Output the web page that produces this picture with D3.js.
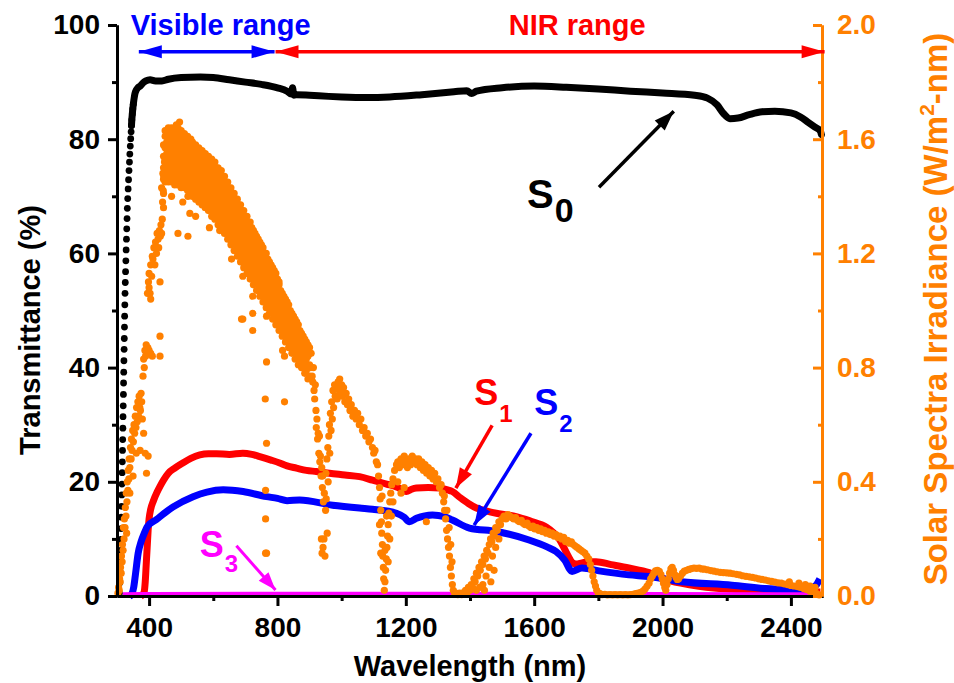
<!DOCTYPE html>
<html>
<head>
<meta charset="utf-8">
<script src="https://cdn.jsdelivr.net/npm/d3@7"></script>
<style>
  body { margin: 0; background: #fff; }
  svg text { font-family: "Liberation Sans", Arial, sans-serif; font-weight: bold; }
</style>
</head>
<body>
<svg id="chart" width="954" height="683"></svg>
<script>
// ---------- data ----------
// Wavelength (nm) ticks
const xTicks = [400, 800, 1200, 1600, 2000, 2400];
const xMinorTicks = [600, 1000, 1400, 1800, 2200];
const tTicks = [0, 20, 40, 60, 80, 100];
const tMinorTicks = [10, 30, 50, 70, 90];
const iTicks = [0.0, 0.4, 0.8, 1.2, 1.6, 2.0];
const iMinorTicks = [0.2, 0.6, 1.0, 1.4, 1.8];

// S0 transmittance (%): individual readings along the UV edge, then the plateau
const s0 = [
  [307.5,0.5],[308.8,2.3],[309.6,4.2],[310.4,6.1],[311.1,8.0],[311.8,9.9],[312.6,11.8],[313.4,13.8],
  [314.2,15.7],[314.9,17.7],[315.5,19.6],[316.1,21.6],[316.6,23.5],[317.2,25.5],[317.7,27.4],[318.3,29.4],
  [318.8,31.4],[319.4,33.3],[320.0,35.3],[320.5,37.3],[321.0,39.2],[321.6,41.2],[322.2,43.2],[322.7,45.1],
  [323.3,47.1],[323.8,49.0],[324.4,51.0],[325.0,53.0],[325.8,54.9],[326.7,56.8],[327.6,58.7],[328.5,60.6],
  [329.5,62.5],[330.4,64.3],[331.3,66.1],[332.2,67.9],[333.4,69.6],[334.7,71.3],[336.0,72.9],[337.4,74.5],
  [338.8,76.0],[340.0,77.4],[341.4,78.8],[342.7,80.1],[344.0,81.3],[345.1,82.4],[346.2,83.4],[347.7,84.4],
  [349.2,85.3],[350.8,86.1],[352.4,86.8],[354.0,87.4],[356,88.0],[360,88.6],[365,89.0],[372,89.3],
  [380,89.8],[390,90.2],[403,90.4],[420,90.2],[440,90.2],[460,90.5],[500,90.8],[560,90.9],[600,90.8],
  [650,90.4],[700,90.0],[750,89.6],[800,89.0],[830,88.4],[843,87.9],[847,89.0],[851,87.7],[860,87.8],
  [900,87.7],[960,87.5],[1000,87.4],[1080,87.3],[1150,87.4],[1250,87.8],[1350,88.3],[1390,88.5],
  [1405,88.0],[1420,88.4],[1500,89.0],[1600,89.3],[1700,89.1],[1800,88.8],[1900,88.4],[2000,88.1],
  [2100,87.7],[2140,87.2],[2170,86.0],[2190,84.5],[2210,83.6],[2235,83.7],[2270,84.3],[2310,84.8],
  [2350,84.9],[2400,84.6],[2430,83.9],[2455,82.9],[2475,82.1],[2492,81.4],[2495,80.8]
];

// S1 transmittance (%)
const s1 = [
  [375,0],[381,0.3],[385,0.8],[388,2.5],[391,5.5],[394,8.5],[397,11.5],[400,13.5],[405,15.2],[413,16.6],
  [425,18.2],[434,19.2],[445,20.3],[460,21.5],[480,22.4],[505,23.3],[530,24.1],[558,24.7],[585,24.9],
  [610,24.9],[650,24.8],[692,25.0],[720,24.8],[745,24.4],[780,23.8],[807,23.3],[830,22.8],[859,22.4],
  [890,22.0],[921,21.8],[962,21.5],[1010,21.2],[1056,20.9],[1096,20.3],[1140,19.6],[1171,19.1],
  [1190,18.6],[1202,18.3],[1218,18.7],[1233,18.9],[1270,19.0],[1305,18.9],[1330,18.6],[1345,18.3],
  [1370,17.2],[1395,16.2],[1420,15.4],[1450,14.9],[1482,14.5],[1515,14.2],[1544,13.9],[1590,13.1],
  [1637,12.1],[1662,11.0],[1680,9.8],[1695,8.2],[1708,6.8],[1718,5.9],[1730,5.6],[1749,5.8],[1770,6.0],
  [1793,6.0],[1840,5.5],[1895,4.9],[1958,4.1],[1985,3.5],[2010,2.9],[2060,2.2],[2113,1.7],[2160,1.4],
  [2215,1.2],[2321,0.9],[2400,0.8],[2465,0.7],[2492,0.7]
];

// S2 transmittance (%)
const s2 = [
  [340,0],[346,0.3],[352,1.5],[358,4.0],[366,7.5],[375,9.5],[385,11.0],[395,12.2],[423,13.4],[450,14.6],
  [475,15.6],[537,17.4],[580,18.2],[631,18.6],[693,18.3],[766,17.4],[800,17.1],[830,16.7],[869,16.8],
  [972,15.9],[1056,15.4],[1096,15.2],[1171,14.5],[1195,13.8],[1211,13.0],[1233,13.6],[1283,14.2],
  [1320,13.9],[1345,13.3],[1398,11.9],[1482,11.3],[1584,9.8],[1640,8.6],[1668,7.8],[1695,6.3],
  [1718,4.3],[1749,4.9],[1802,4.4],[1895,3.7],[1958,3.4],[2060,2.5],[2216,1.9],[2321,1.3],[2424,1.05],
  [2465,1.4],[2480,2.0],[2490,3.0]
];

// S3 transmittance (%)
const s3 = [[318,0.2],[400,0.25],[800,0.3],[1200,0.3],[1600,0.3],[2000,0.25],[2490,0.2]];

// Solar spectral irradiance (W/m2-nm), UV edge and blue cluster
const solarUV = [
  [303,0.01],[305,0.03],[307,0.02],[308,0.06],[310,0.05],[311,0.10],[313,0.08],[314,0.14],[316,0.12],
  [317,0.18],[319,0.16],[320,0.24],[322,0.20],[323,0.27],[325,0.24],[326,0.31],[328,0.28],[329,0.36],
  [331,0.33],[332,0.40],[334,0.37],[335,0.44],[337,0.41],[338,0.48],[340,0.45],[342,0.52],[344,0.48],
  [345,0.55],[347,0.51],[349,0.58],[351,0.54],[353,0.60],[355,0.57],[357,0.63],[359,0.59],[361,0.66],
  [363,0.61],[365,0.68],[367,0.63],[369,0.70],[371,0.66],[373,0.65],[375,0.71],[377,0.68],[379,0.62],
  [381,0.77],[383,0.83],[385,0.80],[387,0.86],[389,0.84],[391,0.88],[393,0.85],[396,0.87],[400,0.86],
  [405,0.85],[410,0.84],[434,0.91],[434,0.84],[372,0.51],[392,0.43],[397,0.49],[388,0.50],[383,0.57],
  [360,0.50],[340,0.36],[330,0.22],[350,0.42],
  [395,1.06],[398,1.10],[400,1.13],[403,1.06],[405,1.16],[408,1.12],[410,1.19],[412,1.18],[415,1.22],
  [418,1.16],[420,1.24],[423,1.20],[425,1.27],[428,1.25],[430,1.22],[432,1.28],[435,1.26],[437,1.30],
  [439,1.27],[434,1.10],[400,1.08],[405,1.04],[441,1.32],[442,1.38],[444,1.42],[446,1.47],[448,1.52]
];

// Solar spectral irradiance, visible to 900 nm: wavelength, then readings spread across the band
const solarBand = [
  [445,1.36,1.41,1.46,1.50,1.54,1.58],[450,1.45,1.49,1.53,1.57,1.61,1.63],[455,1.47,1.51,1.55,1.59,1.62],
  [460,1.45,1.49,1.53,1.57,1.61,1.64],[465,1.47,1.51,1.55,1.59,1.63],[470,1.45,1.49,1.53,1.57,1.61,1.64],
  [475,1.47,1.51,1.55,1.59,1.63],[480,1.44,1.48,1.52,1.56,1.60,1.64],[485,1.46,1.50,1.54,1.58,1.62,1.65],
  [490,1.44,1.48,1.52,1.56,1.60,1.64],[495,1.46,1.50,1.54,1.58,1.62,1.66],[500,1.43,1.47,1.51,1.55,1.59,1.63],
  [505,1.45,1.49,1.53,1.57,1.61],[510,1.43,1.47,1.51,1.55,1.59,1.62],[515,1.45,1.49,1.53,1.57,1.61],
  [520,1.42,1.46,1.50,1.54,1.58,1.61],[525,1.44,1.48,1.52,1.56,1.60],[530,1.42,1.46,1.50,1.54,1.58,1.60],
  [535,1.40,1.44,1.48,1.52,1.56,1.59],[540,1.42,1.46,1.50,1.54,1.58],[545,1.39,1.43,1.47,1.51,1.55,1.58],
  [550,1.41,1.45,1.49,1.53,1.57],[555,1.38,1.42,1.46,1.50,1.54,1.57],[560,1.40,1.44,1.48,1.52,1.56],
  [565,1.37,1.41,1.45,1.49,1.53,1.56],[570,1.39,1.43,1.47,1.51,1.55],[575,1.36,1.40,1.44,1.48,1.52,1.55],
  [580,1.38,1.42,1.46,1.50,1.54],[585,1.35,1.39,1.43,1.47,1.51,1.54],[590,1.37,1.41,1.45,1.49,1.53],
  [595,1.33,1.37,1.41,1.45,1.49,1.53],[600,1.35,1.39,1.43,1.47,1.51],[605,1.32,1.36,1.40,1.44,1.48,1.52],
  [610,1.34,1.38,1.42,1.46,1.50],[615,1.30,1.34,1.38,1.42,1.46,1.50],[620,1.32,1.36,1.40,1.44,1.48],
  [625,1.29,1.33,1.37,1.41,1.45,1.49],[630,1.31,1.35,1.39,1.43,1.47],[635,1.27,1.31,1.35,1.39,1.43,1.47],
  [640,1.29,1.33,1.37,1.41,1.45],[645,1.25,1.29,1.33,1.37,1.41,1.45],[650,1.27,1.31,1.35,1.39,1.43],
  [655,1.23,1.27,1.31,1.35,1.39,1.43],[660,1.25,1.29,1.33,1.37,1.41],[665,1.21,1.25,1.29,1.33,1.37,1.41],
  [670,1.23,1.27,1.31,1.35,1.39],[675,1.19,1.23,1.27,1.31,1.35,1.39],[680,1.21,1.25,1.29,1.33,1.37],
  [685,1.17,1.21,1.25,1.29,1.33,1.37],[690,1.19,1.23,1.27,1.31,1.35],[695,1.15,1.19,1.23,1.27,1.31,1.35],
  [700,1.17,1.21,1.25,1.29,1.33],[705,1.13,1.17,1.21,1.25,1.29,1.33],[710,1.15,1.19,1.23,1.27,1.31],
  [715,1.11,1.15,1.19,1.23,1.27,1.31],[720,1.13,1.17,1.21,1.25,1.29],[725,1.09,1.13,1.17,1.21,1.25,1.28],
  [730,1.11,1.15,1.19,1.23,1.27],[735,1.07,1.11,1.15,1.19,1.23,1.26],[740,1.09,1.13,1.17,1.21,1.25],
  [745,1.05,1.09,1.13,1.17,1.21,1.24],[750,1.07,1.11,1.15,1.19,1.23],[755,1.03,1.07,1.11,1.15,1.19,1.22],
  [760,1.05,1.09,1.13,1.17,1.20],[765,1.01,1.05,1.09,1.13,1.17,1.20],[770,1.03,1.07,1.11,1.15,1.18],
  [775,0.99,1.03,1.07,1.11,1.15,1.17],[780,1.01,1.05,1.09,1.13,1.16],[785,0.97,1.01,1.05,1.09,1.13,1.15],
  [790,0.99,1.03,1.07,1.11,1.14],[795,0.95,0.99,1.03,1.07,1.11,1.13],[800,0.97,1.01,1.05,1.09,1.11],
  [805,0.93,0.97,1.01,1.05,1.09,1.10],[810,0.95,0.99,1.03,1.07],[815,0.91,0.95,0.99,1.03,1.06],
  [820,0.93,0.97,1.01,1.05],[825,0.89,0.93,0.97,1.01,1.04],[830,0.91,0.95,0.99,1.03],
  [835,0.87,0.91,0.95,0.99,1.02],[840,0.89,0.93,0.97,1.00],[845,0.85,0.89,0.93,0.97,0.99],
  [850,0.87,0.91,0.95,0.98],[855,0.83,0.87,0.91,0.95,0.97],[860,0.85,0.89,0.93,0.96],
  [865,0.81,0.85,0.89,0.93,0.95],[870,0.83,0.87,0.91,0.93],[875,0.80,0.84,0.88,0.92],
  [880,0.81,0.85,0.89,0.91],[885,0.78,0.82,0.86,0.90],[890,0.79,0.83,0.87,0.89],
  [895,0.76,0.80,0.84,0.88],[900,0.77,0.81,0.85,0.87]
];

// Solar spectral irradiance, absorption outliers in the visible
const solarDips = [
  [439,1.43],[443,1.48],[490,1.46],[521,1.40],[527,1.34],[490,1.27],[521,1.26],[595,1.37],[588,1.29],
  [657,1.24],[657,1.18],[692,1.18],[692,1.12],[723,1.15],[723,1.05],[692,0.97],[723,0.99],[723,0.93],
  [688,0.97],[766,0.98],[766,0.82],[762,0.69],[766,0.535],[763,0.37],[763,0.27],[763,0.15],[766,0.15],
  [816,0.86],[822,0.84],[822,0.68],[470,1.40],[505,1.38],[545,1.33],[620,1.28],[760,1.03]
];

// Solar spectral irradiance, near infrared
const solarNIR = [
  [903,0.80],[905,0.85],[908,0.77],[910,0.75],[912,0.80],[914,0.72],[916,0.69],[918,0.74],[920,0.65],
  [921,0.59],[923,0.62],[925,0.55],[927,0.57],[929,0.50],[931,0.56],[932,0.47],[934,0.49],[936,0.42],
  [937,0.20],[938,0.45],[939,0.15],[940,0.38],[941,0.42],[942,0.17],[943,0.33],[945,0.20],[946,0.36],
  [948,0.14],[950,0.30],[951,0.43],[952,0.34],[954,0.48],[955,0.22],[957,0.52],[958,0.40],[960,0.56],
  [962,0.60],[963,0.50],[965,0.64],[967,0.58],[969,0.68],[971,0.62],[973,0.72],[975,0.66],[978,0.74],
  [980,0.70],[983,0.73],[986,0.69],[989,0.75],[992,0.72],[994,0.76],[997,0.71],[1000,0.74],[1003,0.70],
  [1006,0.73],[1010,0.68],[1014,0.71],[1018,0.67],[1022,0.69],[1026,0.65],[1030,0.67],[1035,0.63],
  [1040,0.65],[1045,0.62],[1050,0.64],[1055,0.60],[1060,0.62],[1065,0.58],[1070,0.59],[1075,0.56],
  [1080,0.57],[1085,0.54],[1090,0.55],[1096,0.52],[1100,0.50],[1104,0.51],[1108,0.47],[1112,0.46],
  [1115,0.42],[1118,0.38],[1120,0.34],[1122,0.30],[1124,0.26],[1125,0.22],[1127,0.18],[1128,0.14],
  [1130,0.10],[1131,0.06],[1133,0.02],[1135,0.05],[1137,0.09],[1139,0.13],[1141,0.17],[1143,0.21],
  [1145,0.25],[1147,0.29],[1150,0.33],[1153,0.36],[1156,0.39],[1160,0.41],[1165,0.44],[1171,0.46],
  [1118,0.25],[1122,0.15],[1126,0.35],[1140,0.28],[1145,0.12],[1150,0.20],[1155,0.28],[1160,0.33],[1135,0.16],
  [1175,0.47],[1180,0.45],[1185,0.48],[1190,0.46],[1195,0.49],[1200,0.47],[1205,0.45],[1210,0.48],
  [1215,0.46],[1220,0.49],[1225,0.47],[1230,0.48],[1235,0.46],[1240,0.48],[1245,0.45],[1250,0.47],
  [1255,0.44],[1260,0.46],[1265,0.43],[1270,0.45],[1275,0.42],[1280,0.44],[1285,0.41],[1290,0.43],
  [1295,0.40],[1300,0.41],[1305,0.38],[1310,0.39],[1314,0.36],[1318,0.33],[1321,0.30],[1324,0.27],
  [1327,0.23],[1330,0.20],[1333,0.17],[1336,0.14],[1339,0.10],[1342,0.07],[1345,0.04],[1348,0.02],[1352,0.01],
  [1175,0.40],[1185,0.36],[1195,0.38],[1264,0.26],[1320,0.35],[1328,0.30],[1335,0.24],[1340,0.18],[1344,0.12],
  [1356,0.01],[1362,0.005],[1368,0.01],[1374,0.005],[1380,0.012],[1386,0.02],[1390,0.01],[1395,0.03],
  [1400,0.02],[1404,0.04],[1408,0.03],[1412,0.06],[1416,0.05],[1420,0.08],[1424,0.07],[1428,0.10],
  [1432,0.09],[1436,0.12],[1440,0.11],[1444,0.14],[1448,0.13],[1452,0.16],[1456,0.15],[1460,0.18],
  [1464,0.20],[1468,0.19],[1472,0.22],[1476,0.21],[1480,0.24],[1485,0.23],[1490,0.26],[1495,0.25],
  [1420,0.02],[1440,0.04],[1450,0.07],[1460,0.10],[1470,0.14],[1480,0.17],[1490,0.20],[1430,0.03],
  [1445,0.02],[1465,0.05],[1475,0.09],
  [1500,0.27],[1506,0.28],[1512,0.27],[1518,0.285],[1524,0.28],[1530,0.275],[1536,0.27],[1542,0.275],
  [1548,0.265],[1554,0.26],[1560,0.265],[1566,0.255],[1572,0.25],[1578,0.255],[1584,0.245],[1590,0.24],
  [1596,0.245],[1602,0.235],[1608,0.24],[1614,0.23],[1620,0.235],[1626,0.225],[1632,0.23],[1638,0.22],
  [1644,0.225],[1650,0.215],[1656,0.22],[1662,0.21],[1668,0.215],[1674,0.205],[1680,0.21],[1686,0.20],
  [1692,0.205],[1698,0.19],[1704,0.195],[1710,0.185],[1716,0.19],[1722,0.18],[1728,0.175],[1734,0.17],
  [1740,0.165],[1746,0.16],[1752,0.155],[1758,0.15],[1764,0.14],[1770,0.13],[1775,0.11],[1779,0.09],
  [1783,0.07],[1787,0.05],[1791,0.035],[1795,0.02],[1800,0.01],
  [1805,0.008],[1812,0.005],[1820,0.006],[1828,0.004],[1836,0.005],[1844,0.004],[1852,0.005],[1860,0.004],
  [1868,0.005],[1876,0.004],[1884,0.005],[1892,0.004],[1900,0.005],[1908,0.006],[1916,0.008],[1924,0.010],
  [1932,0.013],[1940,0.018],[1946,0.025],[1952,0.035],[1958,0.045],[1963,0.060],[1968,0.070],[1973,0.080],
  [1978,0.088],[1984,0.090],[1990,0.086],[1995,0.075],[1999,0.060],[2003,0.045],[2007,0.030],[2010,0.020],
  [2014,0.040],[2018,0.060],[2022,0.080],[2026,0.095],[2030,0.100],[2034,0.090],[2038,0.075],[2042,0.065],
  [2046,0.058],[2050,0.060],[2056,0.070],[2062,0.080],[2068,0.087],[2075,0.090],[2082,0.093],[2090,0.096],
  [2098,0.098],[2106,0.097],[2114,0.098],[2122,0.095],[2130,0.094],[2140,0.092],[2150,0.089],[2160,0.087],
  [2170,0.085],[2180,0.083],[2190,0.082],[2200,0.081],[2210,0.080],[2220,0.078],[2230,0.076],[2240,0.074],
  [2250,0.071],[2260,0.069],[2270,0.067],[2280,0.065],[2290,0.063],[2300,0.060],[2310,0.058],[2320,0.056],
  [2330,0.053],[2340,0.051],[2350,0.049],[2360,0.046],[2370,0.045],[2380,0.042],[2390,0.040],[2400,0.037],
  [2410,0.035],[2420,0.033],[2430,0.030],[2440,0.026],[2450,0.022],[2460,0.017],[2470,0.012],[2480,0.008],
  [2488,0.004],[2395,0.050],[2425,0.045],[2445,0.040],[2460,0.035],[2475,0.030]
];

// ---------- layout ----------
const plot = { left: 117, right: 823, top: 25, bottom: 596 };
const C = { black: "#000", red: "#ff0000", blue: "#0000ff", magenta: "#ff00ff", orange: "#ff8000" };

const svg = d3.select("#chart");
const x = d3.scaleLinear().domain([300, 2500]).range([plot.left, plot.right]);
const yT = d3.scaleLinear().domain([0, 100]).range([plot.bottom, plot.top]);
const yI = d3.scaleLinear().domain([0, 2]).range([plot.bottom, plot.top]);

// ---------- series ----------
const lineT = d3.line().x(d => x(d[0])).y(d => yT(d[1])).curve(d3.curveMonotoneX);

svg.append("path").datum(s0.filter(d => d[0] >= 345))
  .attr("d", lineT).attr("fill", "none").attr("stroke", C.black)
  .attr("stroke-width", 7).attr("stroke-linejoin", "round").attr("stroke-linecap", "round");
svg.append("g").selectAll("circle").data(s0.filter(d => d[0] < 352))
  .join("circle").attr("cx", d => x(d[0])).attr("cy", d => yT(d[1])).attr("r", 3.4).attr("fill", C.black);

const addLine = (data, color, w) =>
  svg.append("path").datum(data).attr("d", lineT).attr("fill", "none")
    .attr("stroke", color).attr("stroke-width", w).attr("stroke-linejoin", "round");
addLine(s1, C.red, 7);
addLine(s2, C.blue, 7);
addLine(s3, C.magenta, 5);

// solar irradiance dots (right axis)
const solarPts = [
  ...solarUV,
  ...solarBand.flatMap(r => r.slice(1).map(v => [r[0], v])),
  ...solarDips,
  ...solarNIR
];
svg.append("g").selectAll("circle").data(solarPts).join("circle")
  .attr("cx", d => x(d[0])).attr("cy", d => yI(d[1])).attr("r", 3.6).attr("fill", C.orange);

// ---------- axes ----------
function styleAxis(g, color, fontSize) {
  g.select(".domain").attr("stroke", color).attr("stroke-width", 3);
  g.selectAll(".tick line").attr("stroke", color).attr("stroke-width", 3);
  g.selectAll(".tick text").attr("fill", color).style("font-size", fontSize + "px")
    .style("font-family", '"Liberation Sans", Arial, sans-serif').style("font-weight", "bold");
}

// bottom
const gxMinor = svg.append("g").attr("transform", `translate(0,${plot.bottom})`)
  .call(d3.axisBottom(x).tickValues(xMinorTicks).tickSize(5).tickSizeOuter(0).tickFormat(""));
styleAxis(gxMinor, C.black, 28);
const gx = svg.append("g").attr("transform", `translate(0,${plot.bottom})`)
  .call(d3.axisBottom(x).tickValues(xTicks).tickSize(10).tickSizeOuter(0).tickPadding(11).tickFormat(d3.format("d")));
styleAxis(gx, C.black, 28);

// left
const gyMinor = svg.append("g").attr("transform", `translate(${plot.left},0)`)
  .call(d3.axisLeft(yT).tickValues(tMinorTicks).tickSize(5).tickSizeOuter(0).tickFormat(""));
styleAxis(gyMinor, C.black, 28);
const gy = svg.append("g").attr("transform", `translate(${plot.left},0)`)
  .call(d3.axisLeft(yT).tickValues(tTicks).tickSize(9).tickSizeOuter(0).tickPadding(8).tickFormat(d3.format("d")));
styleAxis(gy, C.black, 28);

// right (ticks point inward)
const gyrMinor = svg.append("g").attr("transform", `translate(${plot.right - 1},0)`)
  .call(d3.axisRight(yI).tickValues(iMinorTicks).tickSize(-4).tickSizeOuter(0).tickFormat(""));
styleAxis(gyrMinor, C.orange, 28);
const gyr = svg.append("g").attr("transform", `translate(${plot.right - 1},0)`)
  .call(d3.axisRight(yI).tickValues(iTicks).tickSize(-9).tickSizeOuter(0).tickPadding(15).tickFormat(d3.format(".1f")));
styleAxis(gyr, C.orange, 28);

// axis titles
svg.append("text").attr("x", (plot.left + plot.right) / 2).attr("y", 676)
  .attr("text-anchor", "middle").style("font-size", "29px").text("Wavelength (nm)");
svg.append("text").attr("transform", `translate(40,${330}) rotate(-90)`)
  .attr("text-anchor", "middle").style("font-size", "29px").text("Transmittance (%)");
const rt = svg.append("text").attr("transform", `translate(947,${309}) rotate(-90)`)
  .attr("text-anchor", "middle").attr("fill", C.orange).style("font-size", "33px");
rt.append("tspan").text("Solar Spectra Irradiance (W/m");
rt.append("tspan").attr("dy", -13).style("font-size", "21px").text("2");
rt.append("tspan").attr("dy", 13).text("-nm)");

// ---------- annotations ----------
function arrowHead(g, x1, y1, x2, y2, color, len, half) {
  const a = Math.atan2(y2 - y1, x2 - x1);
  const bx = x2 - len * Math.cos(a), by = y2 - len * Math.sin(a);
  const px = -Math.sin(a) * half, py = Math.cos(a) * half;
  g.append("polygon").attr("points", `${x2},${y2} ${bx + px},${by + py} ${bx - px},${by - py}`).attr("fill", color);
}
function arrow(x1, y1, x2, y2, color, sw, len, half, both) {
  const g = svg.append("g");
  g.append("line").attr("x1", x1).attr("y1", y1).attr("x2", x2).attr("y2", y2)
    .attr("stroke", color).attr("stroke-width", sw);
  arrowHead(g, x1, y1, x2, y2, color, len, half);
  if (both) arrowHead(g, x2, y2, x1, y1, color, len, half);
}

// spectral ranges
const rangeY = yT(95.3);
arrow(x(368), rangeY, x(791), rangeY, C.blue, 3.5, 23, 6.5, true);
arrow(x(794), rangeY, x(2505), rangeY, C.red, 3.5, 23, 6.5, true);
svg.append("text").attr("x", x(623)).attr("y", yT(98.2)).attr("text-anchor", "middle")
  .attr("fill", C.blue).style("font-size", "29px").text("Visible range");
svg.append("text").attr("x", x(1734)).attr("y", yT(98.2)).attr("text-anchor", "middle")
  .attr("fill", C.red).style("font-size", "29px").text("NIR range");

// sample labels
function sampleLabel(lx, ly, sub, color, size, subSize, subDy) {
  const t = svg.append("text").attr("x", x(lx)).attr("y", yT(ly)).attr("fill", color).style("font-size", size + "px");
  t.append("tspan").text("S");
  t.append("tspan").attr("dx", 1).attr("dy", subDy).style("font-size", subSize + "px").text(sub);
}
sampleLabel(1578, 68, "0", C.black, 40, 34, 14);
arrow(x(1802), yT(71.6), x(2035), yT(84.9), C.black, 3.5, 20, 7, false);

sampleLabel(1413, 33.5, "1", C.red, 36, 24, 17);
arrow(x(1469), yT(29.9), x(1356), yT(18.9), C.red, 3.5, 20, 7, false);

sampleLabel(1600, 31.7, "2", C.blue, 36, 24, 17);
arrow(x(1590), yT(28.5), x(1413), yT(12.4), C.blue, 3.5, 20, 7, false);

sampleLabel(558, 6.8, "3", C.magenta, 36, 24, 15);
arrow(x(672), yT(8.8), x(794), yT(1.05), C.magenta, 3, 18, 6.5, false);
</script>
</body>
</html>
